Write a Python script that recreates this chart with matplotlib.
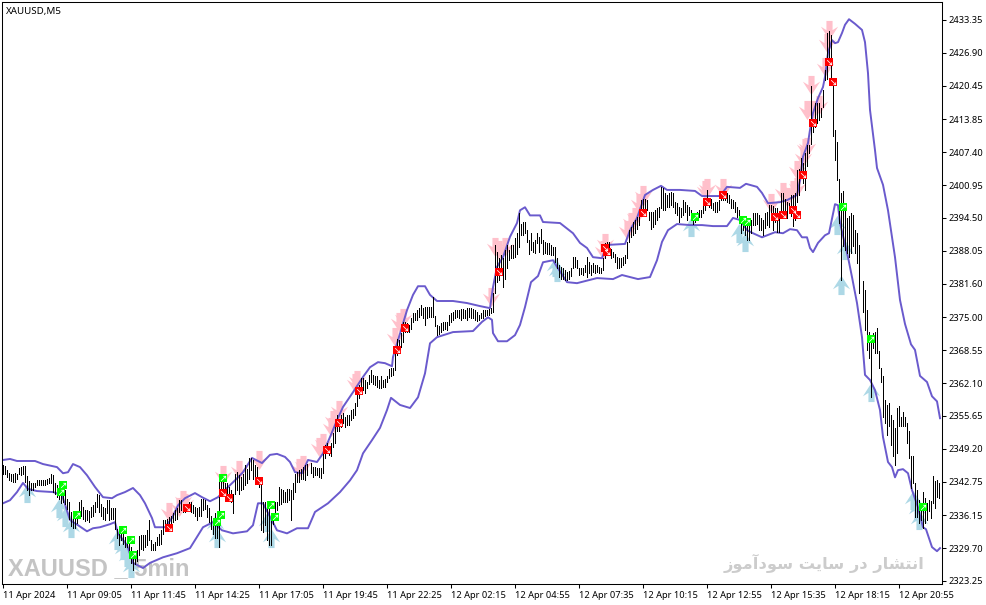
import matplotlib
matplotlib.use('Agg')
import matplotlib.pyplot as plt
from matplotlib.path import Path
import numpy as np

plt.rcParams['font.family'] = ['Noto Sans', 'DejaVu Sans']

# bars in runs, each run knows which bar it starts on
run_starts = [0, 66, 154, 245, 329, 394, 430]

high_1 = [2346.0, 2345.8, 2345.1, 2344.5, 2344.2, 2344.3, 2344.5, 2344.3, 2345.5, 2345.6, 2345.8, 2345.8, 2343.8, 2342.9, 2342.4, 2342.4, 2342.5, 2343.0, 2343.1, 2343.1, 2343.0, 2343.1, 2343.3, 2343.5, 2344.2, 2344.0, 2342.4, 2342.0, 2341.7, 2341.7, 2341.4, 2341.2, 2339.4, 2338.8, 2336.8, 2336.1, 2336.5, 2336.8, 2338.8, 2339.1, 2337.8, 2337.1, 2337.1, 2337.0, 2337.8, 2338.1, 2338.8, 2340.4, 2340.1, 2338.4, 2337.8, 2337.5, 2339.1, 2339.1, 2337.5, 2337.5, 2337.5, 2333.5, 2333.2, 2333.2, 2333.2, 2331.9, 2331.9, 2331.2, 2329.9, 2328.6]
low_1 = [2344.3, 2344.2, 2343.7, 2343.0, 2342.9, 2342.7, 2342.7, 2343.3, 2344.2, 2344.0, 2344.2, 2342.7, 2341.1, 2340.1, 2341.2, 2341.2, 2341.6, 2342.0, 2342.0, 2342.0, 2342.0, 2342.0, 2342.2, 2342.4, 2342.4, 2340.7, 2340.4, 2339.7, 2339.4, 2338.6, 2338.8, 2338.4, 2337.3, 2335.5, 2334.0, 2333.7, 2333.7, 2334.6, 2336.1, 2336.1, 2335.5, 2335.0, 2335.2, 2334.8, 2335.8, 2336.1, 2336.8, 2337.8, 2336.8, 2336.1, 2335.5, 2335.3, 2336.5, 2335.2, 2335.5, 2335.5, 2333.5, 2331.6, 2330.3, 2331.2, 2330.6, 2329.9, 2329.9, 2328.6, 2326.7, 2325.4]

high_2 = [2329.0, 2329.3, 2332.0, 2332.2, 2332.2, 2332.2, 2333.2, 2335.2, 2331.2, 2330.6, 2330.9, 2331.9, 2332.5, 2333.2, 2335.2, 2335.2, 2335.5, 2335.8, 2336.1, 2336.5, 2337.1, 2337.5, 2339.1, 2339.2, 2338.4, 2338.1, 2338.4, 2338.8, 2338.8, 2338.1, 2337.8, 2337.5, 2337.8, 2339.4, 2339.4, 2339.2, 2338.1, 2337.5, 2336.1, 2335.5, 2336.5, 2336.5, 2344.3, 2343.3, 2344.0, 2342.4, 2342.4, 2341.7, 2341.1, 2340.4, 2344.3, 2344.6, 2344.0, 2343.7, 2344.3, 2346.0, 2345.3, 2347.3, 2347.3, 2346.9, 2346.0, 2345.6, 2343.3, 2343.0, 2338.8, 2338.8, 2338.4, 2338.1, 2336.1, 2336.5, 2338.8, 2338.8, 2341.7, 2341.4, 2341.1, 2340.7, 2341.4, 2341.4, 2341.1, 2342.4, 2344.3, 2344.6, 2345.0, 2345.3, 2345.6, 2346.0, 2346.3]
low_2 = [2326.5, 2327.2, 2328.3, 2329.6, 2329.3, 2329.9, 2330.3, 2331.2, 2329.3, 2329.3, 2329.3, 2330.3, 2330.3, 2330.6, 2332.5, 2333.5, 2333.2, 2334.2, 2334.2, 2334.8, 2335.2, 2335.5, 2336.8, 2337.1, 2336.8, 2336.8, 2337.3, 2337.1, 2336.8, 2336.5, 2336.1, 2335.2, 2336.1, 2336.1, 2337.1, 2337.3, 2335.8, 2334.8, 2333.5, 2332.5, 2331.6, 2331.6, 2329.9, 2340.4, 2340.7, 2340.1, 2339.4, 2339.1, 2338.8, 2336.5, 2340.4, 2341.1, 2340.4, 2341.1, 2341.4, 2342.0, 2342.4, 2343.3, 2345.0, 2343.3, 2342.4, 2343.0, 2341.7, 2333.2, 2332.9, 2334.2, 2331.2, 2330.3, 2330.3, 2334.5, 2336.5, 2337.1, 2338.1, 2338.4, 2338.8, 2338.8, 2338.8, 2339.1, 2335.2, 2339.4, 2340.7, 2342.7, 2342.7, 2343.3, 2343.3, 2343.0, 2344.0]

high_3 = [2346.4, 2345.7, 2345.7, 2345.4, 2345.4, 2345.4, 2349.0, 2349.9, 2350.3, 2349.6, 2350.3, 2352.2, 2354.2, 2355.8, 2354.5, 2355.8, 2356.2, 2355.5, 2355.8, 2355.8, 2356.8, 2357.1, 2358.1, 2361.4, 2361.7, 2363.0, 2363.0, 2362.7, 2362.4, 2363.7, 2364.7, 2363.7, 2363.4, 2363.4, 2362.7, 2363.5, 2362.7, 2362.8, 2363.4, 2364.8, 2365.0, 2365.0, 2369.2, 2370.7, 2370.5, 2371.9, 2374.1, 2374.1, 2373.8, 2373.5, 2374.8, 2375.8, 2375.8, 2376.4, 2376.8, 2377.4, 2376.8, 2377.1, 2377.1, 2377.1, 2377.1, 2379.0, 2375.3, 2373.5, 2373.2, 2373.8, 2374.1, 2374.1, 2374.1, 2375.5, 2375.8, 2376.1, 2376.4, 2376.4, 2376.4, 2376.6, 2376.6, 2376.4, 2376.8, 2376.8, 2376.8, 2376.6, 2376.4, 2376.1, 2375.5, 2375.8, 2376.4, 2376.4, 2376.4, 2376.6, 2376.8, 2378.4]
low_3 = [2344.4, 2343.7, 2344.1, 2344.1, 2343.7, 2343.4, 2344.4, 2347.3, 2348.3, 2348.0, 2347.7, 2349.6, 2350.3, 2352.6, 2352.6, 2353.5, 2354.2, 2353.5, 2353.9, 2353.9, 2354.9, 2355.2, 2355.8, 2357.5, 2359.1, 2360.1, 2360.7, 2360.1, 2361.1, 2362.0, 2362.4, 2362.0, 2361.7, 2361.4, 2361.1, 2361.1, 2361.3, 2361.3, 2362.4, 2363.0, 2363.4, 2363.7, 2364.7, 2367.6, 2367.9, 2369.2, 2370.2, 2372.2, 2372.2, 2372.2, 2372.8, 2374.1, 2374.5, 2374.5, 2375.1, 2375.5, 2374.8, 2373.5, 2374.8, 2375.1, 2375.1, 2375.1, 2373.2, 2371.5, 2371.7, 2372.2, 2372.5, 2372.8, 2372.6, 2373.5, 2374.1, 2374.5, 2374.8, 2375.1, 2374.8, 2374.5, 2374.8, 2374.8, 2374.5, 2375.1, 2374.8, 2374.8, 2374.5, 2374.3, 2374.5, 2374.8, 2374.8, 2375.3, 2375.5, 2375.5, 2375.8, 2376.1]

high_4 = [2379.7, 2389.2, 2387.9, 2386.6, 2387.2, 2386.6, 2388.2, 2389.2, 2388.2, 2389.2, 2389.2, 2390.5, 2391.5, 2395.4, 2393.4, 2393.7, 2393.7, 2392.1, 2390.2, 2391.5, 2389.8, 2390.2, 2391.5, 2390.8, 2392.4, 2390.2, 2389.8, 2389.5, 2389.5, 2389.2, 2388.8, 2388.8, 2386.6, 2385.2, 2384.9, 2384.6, 2384.3, 2383.9, 2384.1, 2384.6, 2386.8, 2386.9, 2386.2, 2384.7, 2384.6, 2384.6, 2385.2, 2386.9, 2385.9, 2385.2, 2385.6, 2385.2, 2385.2, 2384.9, 2384.6, 2386.6, 2389.5, 2389.8, 2389.8, 2388.5, 2387.9, 2387.5, 2386.9, 2386.6, 2386.6, 2386.9, 2387.2, 2389.8, 2392.1, 2392.8, 2393.7, 2394.1, 2394.7, 2395.4, 2398.0, 2398.3, 2398.3, 2398.0, 2395.7, 2395.7, 2395.7, 2396.0, 2396.4, 2396.7]
low_4 = [2377.1, 2379.7, 2382.0, 2382.3, 2383.3, 2381.0, 2382.6, 2384.6, 2386.2, 2386.6, 2386.6, 2386.9, 2387.5, 2388.8, 2391.1, 2391.1, 2391.5, 2389.8, 2387.5, 2388.2, 2387.9, 2387.7, 2389.5, 2387.9, 2389.5, 2387.5, 2387.7, 2387.5, 2387.5, 2387.2, 2387.2, 2385.9, 2384.6, 2383.0, 2382.6, 2382.6, 2382.3, 2382.3, 2382.6, 2383.1, 2384.6, 2384.8, 2384.6, 2383.3, 2383.5, 2383.3, 2383.9, 2383.0, 2383.6, 2383.3, 2383.9, 2383.6, 2383.9, 2383.6, 2383.6, 2384.3, 2386.6, 2387.2, 2387.5, 2386.6, 2386.9, 2385.9, 2384.6, 2384.6, 2384.9, 2385.2, 2385.6, 2386.6, 2389.8, 2390.8, 2391.1, 2391.5, 2392.4, 2393.1, 2395.4, 2395.4, 2395.7, 2396.0, 2394.1, 2392.4, 2392.8, 2393.4, 2394.1, 2394.7]

high_5 = [2400.6, 2400.3, 2399.3, 2399.0, 2399.3, 2399.5, 2399.3, 2397.7, 2397.4, 2396.7, 2396.4, 2398.1, 2397.7, 2397.0, 2396.7, 2396.0, 2395.4, 2395.1, 2395.7, 2396.0, 2396.0, 2397.0, 2397.7, 2400.0, 2398.3, 2398.3, 2397.4, 2397.7, 2397.7, 2398.0, 2399.6, 2399.6, 2399.6, 2399.3, 2399.0, 2398.3, 2398.0, 2397.7, 2396.7, 2396.0, 2394.7, 2394.7, 2394.4, 2394.4, 2394.1, 2394.1, 2395.4, 2395.5, 2395.5, 2395.1, 2394.4, 2394.1, 2395.4, 2395.7, 2397.0, 2397.0, 2396.8, 2396.4, 2396.4, 2395.4, 2399.3, 2399.3, 2398.3, 2397.7, 2397.4]
low_5 = [2396.4, 2396.0, 2396.0, 2396.7, 2396.7, 2397.0, 2396.7, 2395.4, 2395.1, 2393.8, 2394.7, 2395.1, 2395.7, 2394.1, 2395.1, 2394.1, 2393.4, 2393.8, 2394.4, 2394.7, 2394.7, 2395.4, 2396.0, 2397.0, 2396.7, 2396.4, 2396.0, 2395.7, 2395.7, 2396.0, 2398.0, 2398.0, 2398.0, 2397.7, 2397.4, 2396.4, 2396.4, 2395.7, 2394.7, 2394.1, 2391.5, 2392.1, 2391.1, 2390.2, 2390.2, 2391.5, 2393.1, 2393.1, 2393.4, 2392.1, 2392.1, 2391.1, 2392.5, 2393.1, 2392.8, 2394.1, 2392.1, 2393.8, 2391.8, 2391.8, 2395.4, 2395.7, 2394.7, 2394.4, 2395.4]

high_6 = [2399.0, 2399.0, 2399.3, 2404.0, 2404.2, 2406.2, 2405.2, 2407.2, 2408.8, 2408.8, 2420.3, 2413.7, 2417.0, 2417.0, 2417.0, 2416.0, 2419.6, 2423.5, 2430.7, 2431.1, 2430.4, 2420.9, 2411.8, 2409.5, 2402.1, 2399.3, 2399.7, 2397.0, 2394.4, 2394.8, 2395.4, 2395.1, 2392.1, 2391.5, 2389.2]
low_6 = [2394.8, 2393.0, 2394.1, 2397.7, 2399.0, 2402.3, 2401.3, 2400.0, 2404.6, 2407.2, 2409.1, 2411.4, 2412.4, 2413.1, 2413.7, 2414.4, 2416.3, 2421.6, 2421.7, 2425.5, 2420.9, 2410.5, 2405.9, 2402.0, 2393.5, 2382.3, 2388.9, 2388.2, 2387.6, 2386.9, 2387.6, 2388.9, 2387.6, 2385.6, 2379.7]

high_7 = [2382.1, 2380.4, 2376.5, 2372.2, 2371.5, 2371.9, 2372.2, 2372.9, 2368.3, 2365.0, 2363.5, 2358.8, 2357.8, 2358.1, 2355.9, 2354.9, 2353.2, 2357.2, 2357.5, 2355.5, 2356.5, 2355.5, 2354.2, 2352.6, 2347.7, 2347.7, 2342.4, 2341.1, 2339.2, 2338.5, 2340.8, 2339.5, 2338.5, 2339.2, 2338.9, 2343.8, 2342.8, 2343.1, 2342.4]
low_7 = [2376.1, 2372.5, 2368.6, 2367.0, 2359.4, 2368.9, 2367.9, 2367.9, 2365.0, 2362.4, 2355.5, 2354.2, 2351.9, 2353.6, 2350.0, 2347.7, 2346.0, 2348.3, 2353.6, 2353.6, 2353.6, 2353.6, 2350.3, 2347.3, 2341.5, 2342.4, 2335.9, 2335.9, 2334.6, 2335.2, 2333.6, 2334.6, 2335.2, 2336.9, 2335.6, 2338.5, 2337.5, 2339.8, 2339.5]

upper_idx = [0, 3.5, 7, 12, 16, 20, 27, 30, 32.5, 35, 38.5, 42, 46, 50, 54.5, 57, 61, 65, 68.5, 71, 74.5, 76, 81, 84.5, 87.5, 91, 96, 99.5, 103.5, 107.5, 112, 116, 120, 124.5, 129.5, 133.5, 137, 141, 143.5, 146, 149.5, 152.5, 157, 160, 163.5, 167, 170, 175, 180, 183.5, 187.5, 191, 194.5, 195, 197.5, 199.5, 202, 205, 207.5, 211, 213.5, 217, 225, 232, 238.5, 243.5, 245, 247, 250, 253.5, 257, 258.5, 261, 263.5, 268.5, 270, 278.5, 285, 288.5, 292, 295, 299.5, 302, 311, 313.5, 317, 321, 325, 329, 332, 338.5, 346, 349.5, 358.5, 362, 368.5, 371.5, 377, 379.5, 382.5, 388.5, 392, 397, 398.5, 400, 402.5, 403.5, 405, 407.5, 410, 411, 412.5, 414.5, 416, 417.5, 419.5, 421, 423, 426, 429.5, 431, 432.5, 433.5, 436, 437, 440, 442.5, 446, 448.5, 451, 454, 456, 458.5, 462, 464.5, 467, 468.5]
upper = [2347.0, 2347.2, 2346.8, 2346.8, 2346.8, 2346.2, 2345.6, 2344.4, 2344.6, 2346.2, 2345.6, 2344.0, 2341.7, 2339.7, 2339.5, 2340.1, 2340.7, 2341.5, 2340.1, 2338.5, 2335.6, 2333.8, 2333.8, 2335.6, 2338.1, 2339.5, 2340.5, 2339.7, 2338.9, 2339.7, 2341.5, 2343.0, 2344.6, 2347.4, 2346.4, 2348.0, 2348.2, 2347.6, 2346.6, 2344.6, 2344.4, 2347.0, 2346.6, 2348.3, 2351.5, 2354.8, 2357.4, 2360.3, 2363.3, 2365.2, 2366.2, 2366.0, 2365.4, 2367.2, 2370.5, 2373.1, 2376.4, 2379.4, 2381.1, 2381.1, 2379.4, 2378.2, 2378.2, 2377.8, 2377.2, 2376.8, 2380.9, 2384.9, 2386.8, 2390.8, 2393.5, 2396.0, 2396.6, 2395.0, 2395.0, 2393.7, 2393.5, 2391.5, 2389.6, 2388.6, 2386.8, 2386.6, 2389.2, 2389.4, 2392.1, 2394.5, 2399.0, 2400.0, 2400.8, 2400.0, 2400.0, 2399.8, 2398.8, 2398.8, 2400.6, 2400.4, 2401.2, 2400.6, 2399.4, 2397.4, 2397.6, 2398.0, 2399.0, 2401.9, 2406.5, 2409.2, 2411.8, 2415.1, 2418.0, 2420.2, 2422.2, 2426.9, 2429.4, 2428.8, 2429.0, 2430.8, 2432.4, 2433.5, 2432.6, 2431.4, 2429.0, 2422.9, 2415.7, 2407.8, 2404.3, 2401.0, 2396.0, 2386.8, 2378.4, 2373.7, 2369.7, 2368.6, 2363.5, 2362.3, 2359.5, 2358.5, 2355.2]

lower_idx = [0, 3.5, 7, 10, 12.5, 17, 25, 29.5, 33.5, 37.5, 42, 45, 48.5, 53.5, 56, 57.5, 62, 65, 70, 73.5, 80, 87, 93.5, 97, 100, 105, 109.5, 115, 122, 125, 127.5, 130, 137, 142, 147, 152.5, 156, 162.5, 168.5, 173.5, 177, 180, 184.5, 188.5, 192, 194, 198.5, 203.5, 207.5, 211, 213.5, 217, 225, 235, 239.5, 242.5, 244.5, 245, 247.5, 252, 256, 258.5, 261, 264, 267.5, 270, 275, 277, 282, 287, 297, 305, 309.5, 317.5, 323.5, 327, 329.5, 332.5, 337, 343.5, 349.5, 355, 362, 365, 368.5, 372, 375, 379.5, 386, 390, 393.5, 397, 399.5, 402, 403.5, 405, 407.5, 411, 413, 416, 417.5, 418.5, 422.5, 424.5, 427, 429.5, 431, 433.5, 436, 438.5, 440, 442.5, 444.5, 446, 447.5, 450, 452.5, 454.5, 457.5, 460, 461.5, 464.5, 467, 468.5]
lower = [2338.5, 2339.1, 2340.7, 2342.5, 2341.3, 2340.9, 2340.7, 2340.1, 2335.2, 2334.2, 2333.0, 2333.6, 2333.8, 2334.4, 2334.8, 2332.6, 2330.3, 2326.8, 2325.8, 2326.8, 2327.9, 2328.7, 2329.7, 2331.9, 2333.8, 2334.8, 2333.2, 2332.6, 2333.0, 2334.2, 2338.5, 2338.5, 2333.2, 2332.6, 2333.6, 2333.6, 2336.8, 2338.5, 2340.7, 2343.0, 2345.0, 2348.3, 2350.9, 2353.3, 2356.8, 2359.2, 2357.8, 2357.2, 2359.3, 2364.0, 2369.9, 2371.1, 2372.1, 2372.3, 2374.1, 2375.0, 2374.5, 2371.9, 2370.3, 2370.3, 2371.5, 2373.5, 2377.0, 2381.9, 2383.1, 2385.8, 2386.2, 2384.9, 2381.9, 2381.7, 2382.7, 2382.5, 2383.3, 2382.5, 2382.9, 2386.2, 2389.8, 2392.1, 2393.3, 2393.1, 2393.1, 2392.9, 2392.9, 2394.5, 2394.1, 2392.1, 2391.5, 2390.7, 2391.7, 2391.5, 2392.3, 2392.1, 2390.7, 2390.7, 2388.6, 2387.8, 2389.6, 2391.1, 2391.5, 2397.2, 2397.0, 2393.5, 2386.8, 2382.9, 2377.8, 2371.1, 2363.7, 2362.7, 2360.7, 2356.8, 2351.5, 2346.6, 2345.6, 2343.6, 2345.0, 2345.2, 2344.4, 2341.1, 2337.7, 2333.8, 2333.4, 2329.9, 2329.1, 2329.7]

pink_idx = [83, 88, 90, 91, 110, 118, 128, 148, 160, 158, 150, 168, 165, 164, 177, 176, 196, 198, 200, 244, 246, 248, 251, 301, 300, 312, 314, 316, 318, 320, 352, 351, 360, 384, 390, 392, 395, 397, 398, 397, 400, 401, 402, 404, 402, 405, 408, 411, 412, 413]
pink_price = [2336.8, 2337.7, 2339.1, 2338.5, 2344.0, 2345.0, 2347.0, 2345.4, 2350.3, 2349.5, 2346.0, 2356.8, 2354.8, 2353.5, 2362.7, 2362.1, 2371.1, 2374.1, 2374.8, 2379.0, 2388.8, 2388.2, 2388.8, 2389.6, 2388.2, 2392.1, 2393.7, 2394.7, 2397.4, 2399.0, 2400.4, 2400.0, 2400.4, 2397.4, 2399.6, 2398.6, 2400.0, 2400.6, 2403.3, 2403.9, 2406.5, 2408.2, 2408.4, 2420.6, 2415.7, 2415.7, 2416.7, 2424.1, 2428.8, 2431.4]

blue_idx = [12, 28, 31, 34, 57, 60, 62, 64, 107, 106, 132, 134, 276, 277, 344, 368, 371, 417, 421, 419, 434, 455, 457, 458]
blue_price = [2340.5, 2337.6, 2335.8, 2333.6, 2331.3, 2329.3, 2327.9, 2325.8, 2331.7, 2334.2, 2334.8, 2331.7, 2384.9, 2383.9, 2392.7, 2391.5, 2389.8, 2393.1, 2388.2, 2381.3, 2360.3, 2339.1, 2337.2, 2335.2]

red_idx = [83, 92, 110, 113, 128, 162, 168, 178, 197, 201, 248, 302, 301, 320, 352, 360, 386, 390, 395, 397, 400, 405, 413, 415]
red_price = [2333.6, 2337.5, 2340.5, 2339.5, 2342.8, 2348.9, 2354.2, 2360.5, 2368.6, 2372.9, 2383.9, 2387.8, 2388.6, 2395.5, 2397.6, 2399.0, 2394.7, 2395.1, 2396.0, 2395.1, 2402.9, 2413.1, 2425.1, 2421.2]

green_idx = [30, 29, 37, 60, 64, 65, 110, 109, 107, 134, 136, 346, 370, 372, 420, 434, 460]
green_price = [2342.1, 2340.7, 2336.2, 2333.2, 2331.2, 2328.3, 2343.4, 2336.2, 2334.8, 2338.1, 2335.8, 2394.7, 2394.1, 2393.7, 2396.6, 2370.7, 2337.7]

price_ticks = [2433.35, 2426.90, 2420.45, 2413.85, 2407.40, 2400.95, 2394.50, 2388.05, 2381.60, 2375.00, 2368.55, 2362.10, 2355.65, 2349.20, 2342.75, 2336.15, 2329.70, 2323.25]
time_ticks = [0, 32, 64, 96, 128, 160, 192, 224, 256, 288, 320, 352, 384, 416, 448]
time_labels = ['11 Apr 2024', '11 Apr 09:05', '11 Apr 11:45', '11 Apr 14:25', '11 Apr 17:05', '11 Apr 19:45', '11 Apr 22:25', '12 Apr 02:15', '12 Apr 04:55', '12 Apr 07:35', '12 Apr 10:15', '12 Apr 12:55', '12 Apr 15:35', '12 Apr 18:15', '12 Apr 20:55']

# matplotlib does no arabic shaping, so the words are in presentation forms, left to right
watermark_fa = ('\uFEAF\uFEEE\uFEE3\uFE81\uFEA9\uFEEE\uFEB3 '
                '\uFE96\uFBFE\uFE8E\uFEB3 '
                '\uFEAD\uFEA9 '
                '\uFEAD\uFE8E\uFEB8\uFE98\uFEE7\uFE8D')

highs = [high_1, high_2, high_3, high_4, high_5, high_6, high_7]
lows = [low_1, low_2, low_3, low_4, low_5, low_6, low_7]

# swept back arrow shapes for the signal markers
down_arrow = Path([(-0.16, 0.5), (0.16, 0.5), (0.16, 0.02), (0.45, 0.2), (0.0, -0.5), (-0.45, 0.2), (-0.16, 0.02), (-0.16, 0.5)], closed=True)
up_arrow = Path([(-0.16, -0.5), (0.16, -0.5), (0.16, -0.02), (0.45, -0.2), (0.0, 0.5), (-0.45, -0.2), (-0.16, -0.02), (-0.16, -0.5)], closed=True)

fig = plt.figure(figsize=(9.87, 6.05), dpi=100)
ax = fig.add_axes([2 / 987, 1 - 584 / 605, 940 / 987, 582 / 605])

ax.text(2.5, 2324.4, 'XAUUSD _ 5min', fontsize=17, fontweight='bold', color='#c4c4c4', family='Liberation Sans', va='baseline', ha='left', zorder=0)
ax.text(461, 2325.6, watermark_fa, fontsize=11.7, fontweight='bold', color='#cccccc', family='DejaVu Sans', va='baseline', ha='right', zorder=0)

ax.scatter(pink_idx, pink_price, s=190, marker=down_arrow, color='#ffc0cb', linewidths=0, zorder=1)
ax.scatter(blue_idx, blue_price, s=190, marker=up_arrow, color='#add8e6', linewidths=0, zorder=1)

ax.plot(upper_idx, upper, color='#6a5acd', lw=1.4, zorder=2)
ax.plot(lower_idx, lower, color='#6a5acd', lw=1.4, zorder=2)

for start, high, low in zip(run_starts, highs, lows):
    ax.vlines(start + np.arange(len(high)), low, high, color='black', lw=0.72, antialiased=False, zorder=3)

ax.scatter(red_idx, red_price, s=32, marker='s', color='#ff0000', linewidths=0, zorder=4)
ax.scatter(red_idx, red_price, s=14, marker=r'$\searrow$', color='white', linewidths=0, zorder=5)
ax.scatter(green_idx, green_price, s=32, marker='s', color='#00ff00', linewidths=0, zorder=4)
ax.scatter(green_idx, green_price, s=14, marker=r'$\nearrow$', color='white', linewidths=0, zorder=5)

ax.set_xlim(-0.5, 469.5)
ax.set_ylim(2322.66, 2436.88)

ax.yaxis.tick_right()
ax.set_yticks(price_ticks)
ax.set_yticklabels(['%.2f' % p for p in price_ticks], fontsize=6.7, color='black')
ax.set_xticks(time_ticks)
ax.set_xticklabels(time_labels, fontsize=6.7, ha='left', color='black')
ax.tick_params(axis='y', length=3, width=0.75, pad=2)
ax.tick_params(axis='x', length=3, width=0.75, pad=2)
for spine in ax.spines.values():
    spine.set_linewidth(0.75)

ax.text(0.004, 0.992, 'XAUUSD,M5', transform=ax.transAxes, fontsize=7, va='top', ha='left')

fig.savefig('out.png', dpi=100)
